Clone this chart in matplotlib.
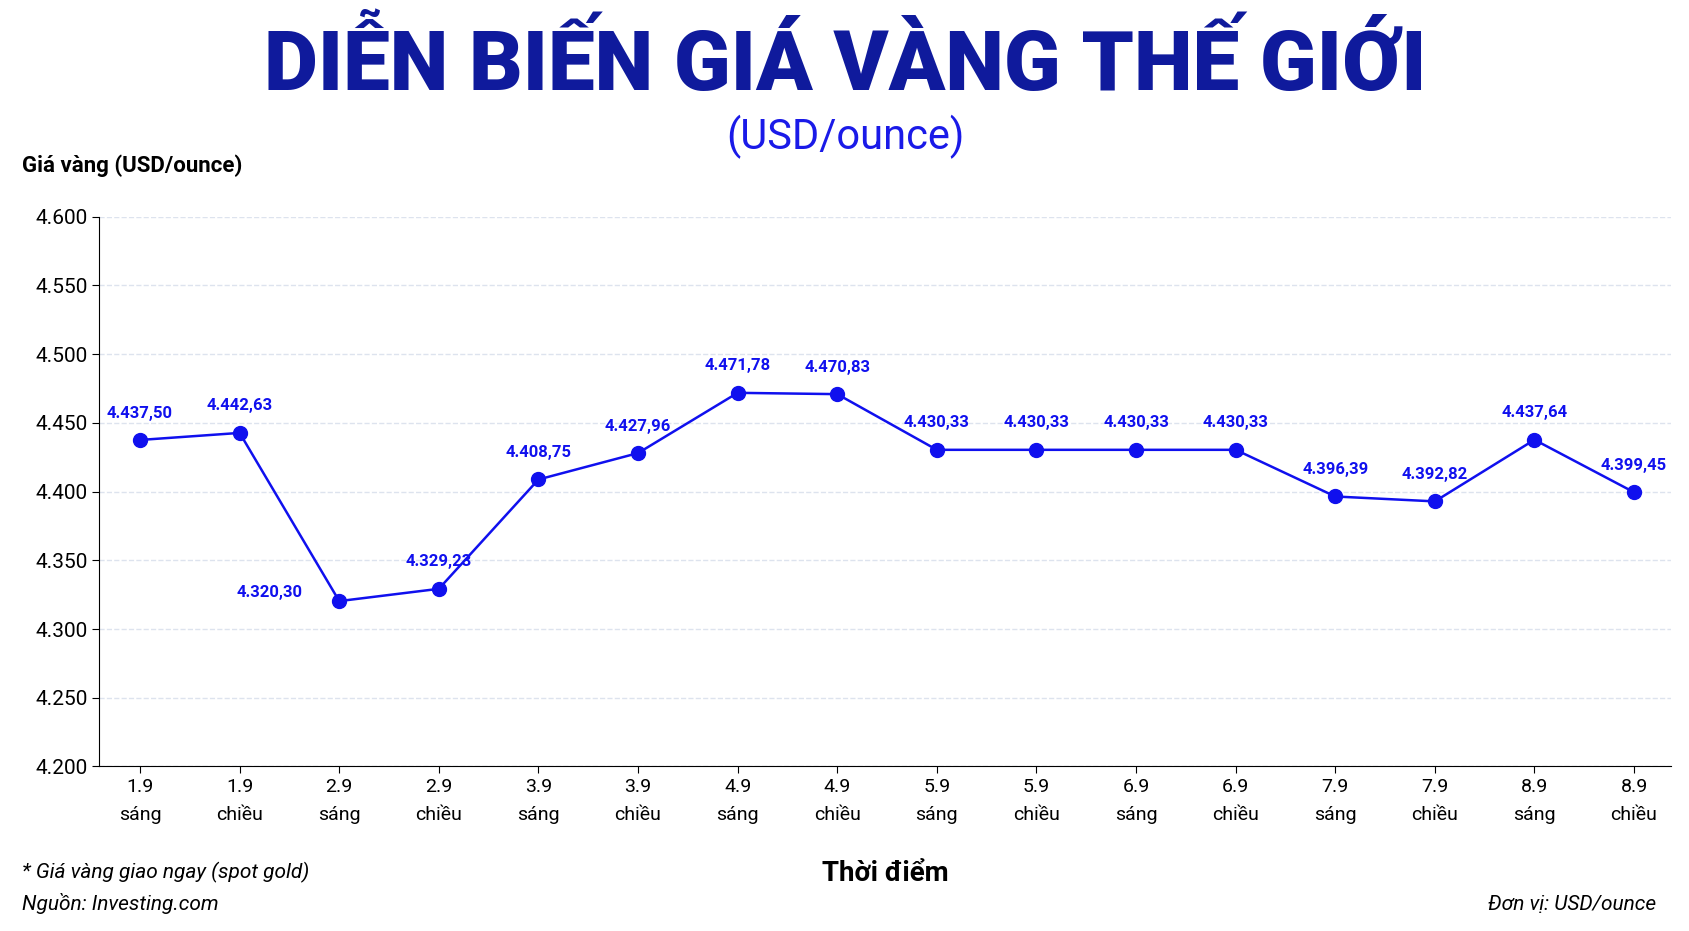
import matplotlib.pyplot as plt

days = ["1.9","1.9","2.9","2.9","3.9","3.9","4.9","4.9","5.9","5.9","6.9","6.9","7.9","7.9","8.9","8.9"]
sessions = ["sáng","chiều"]*8
prices = [4437.50,4442.63,4320.30,4329.23,4408.75,4427.96,4471.78,4470.83,4430.33,4430.33,4430.33,4430.33,4396.39,4392.82,4437.64,4399.45]
yticks = [4200,4250,4300,4350,4400,4450,4500,4550,4600]

def vn(v, d=2):
    s = f"{v:,.{d}f}"
    return s.replace(",", "X").replace(".", ",").replace("X", ".")

plt.rcParams['font.family'] = ['Roboto', 'DejaVu Sans']
fig = plt.figure(figsize=(16.9, 9.31), dpi=100)
fig.patch.set_facecolor('white')
ax = fig.add_axes([0.0587, 0.1767, 0.93, 0.5907])
blue = '#1010ee'
x = list(range(len(prices)))
ax.plot(x, prices, color=blue, lw=1.8, marker='o', ms=10, zorder=3)
for i, p in enumerate(prices):
    if i == 2:
        ax.annotate(vn(p), (i, p), xytext=(-50, 6), textcoords='offset points',
                    ha='center', va='center', color=blue, fontsize=12, fontweight='bold')
    else:
        ax.annotate(vn(p), (i, p), xytext=(0, 14), textcoords='offset points',
                    ha='center', va='bottom', color=blue, fontsize=12, fontweight='bold')
ax.set_xlim(-0.41, 15.37)
ax.set_ylim(4200, 4600)
ax.set_yticks(yticks)
ax.set_yticklabels([vn(v, 0) for v in yticks], fontsize=15)
ax.set_xticks(x)
ax.set_xticklabels([f"{d}\n{s}" for d, s in zip(days, sessions)], fontsize=14, linespacing=1.7)
ax.grid(axis='y', color='#dde3ee', ls='--', lw=1)
ax.set_axisbelow(True)
for s in ['top', 'right']:
    ax.spines[s].set_visible(False)
ax.tick_params(axis='both', length=5)
ax.set_xlabel("Thời điểm", fontsize=20, fontweight='bold', labelpad=26)

fig.text(0.5, 0.93, "DIỄN BIẾN GIÁ VÀNG THẾ GIỚI", ha='center', va='center',
         fontsize=60, fontweight='black', color='#0f1a9c')
fig.text(0.5, 0.853, "(USD/ounce)", ha='center', va='center', fontsize=30, color='#1a1ae8')
fig.text(0.013, 0.822, "Giá vàng (USD/ounce)", ha='left', va='center', fontsize=16, fontweight='bold')
fig.text(0.013, 0.063, "* Giá vàng giao ngay (spot gold)", ha='left', va='center', fontsize=15, style='italic')
fig.text(0.013, 0.030, "Nguồn: Investing.com", ha='left', va='center', fontsize=15, style='italic')
fig.text(0.98, 0.028, "Đơn vị: USD/ounce", ha='right', va='center', fontsize=15, style='italic')
fig.savefig("out.png", dpi=100)
